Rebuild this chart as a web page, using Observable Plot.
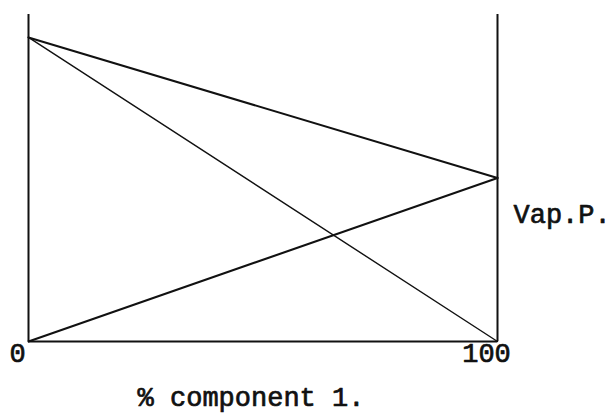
<!DOCTYPE html>
<html>
<head>
<meta charset="utf-8">
<script src="https://cdn.jsdelivr.net/npm/d3@7"></script>
<script src="https://cdn.jsdelivr.net/npm/@observablehq/plot@0.6"></script>
<style>
  html, body { margin: 0; padding: 0; background: #fff; }
  #chart svg { display: block; }
</style>
</head>
<body>
<div id="chart"></div>
<script>
// Composition axis (% component 1) and the vapour pressures
const composition = [0, 100];
const vpComponent1 = [0, 50];   // partial pressure of component 1
const vpComponent2 = [93, 0];   // partial pressure of component 2
const vpTotal = [93, 50];       // total vapour pressure
const xTicks = [0, 100];
const xLabel = "% component 1.";
const yLabel = "Vap.P.";

const series = [
  {name: "total", values: vpTotal, width: 2.1},
  {name: "component 1", values: vpComponent1, width: 2.1},
  {name: "component 2", values: vpComponent2, width: 1.4}
];
const rows = series.flatMap(s => composition.map((c, i) => ({series: s.name, x: c, y: s.values[i], w: s.width})));

const font = "'Courier New', 'Liberation Mono', monospace";
const textStyle = {fontSize: 27, fill: "#111", stroke: "#111", strokeWidth: 0.7, fontFamily: font};

const chart = Plot.plot({
  width: 613,
  height: 418,
  marginLeft: 28,
  marginRight: 116,
  marginTop: 14,
  marginBottom: 77,
  x: {domain: [0, 100], axis: null},
  y: {domain: [0, 100], axis: null},
  style: {fontFamily: font, background: "#fff"},
  marks: [
    Plot.ruleX(xTicks, {x: d => d, y1: 0, y2: 100, stroke: "#111", strokeWidth: 2}),
    Plot.ruleY([0], {x1: 0, x2: 100, stroke: "#111", strokeWidth: 2.2}),
    ...series.map(s => Plot.line(rows.filter(r => r.series === s.name), {
      x: "x", y: "y", stroke: "#111", strokeWidth: s.width
    })),
    Plot.text(xTicks, {
      x: d => d, text: d => String(d), frameAnchor: "bottom",
      dy: 20, dx: -11, ...textStyle
    }),
    Plot.text([xLabel], {
      text: d => d, frameAnchor: "bottom", dy: 64, dx: -12, ...textStyle
    }),
    Plot.text([yLabel], {
      text: d => d, frameAnchor: "right", dx: 16, dy: 36, textAnchor: "start", ...textStyle
    })
  ]
});
document.getElementById("chart").appendChild(chart);
</script>
</body>
</html>
